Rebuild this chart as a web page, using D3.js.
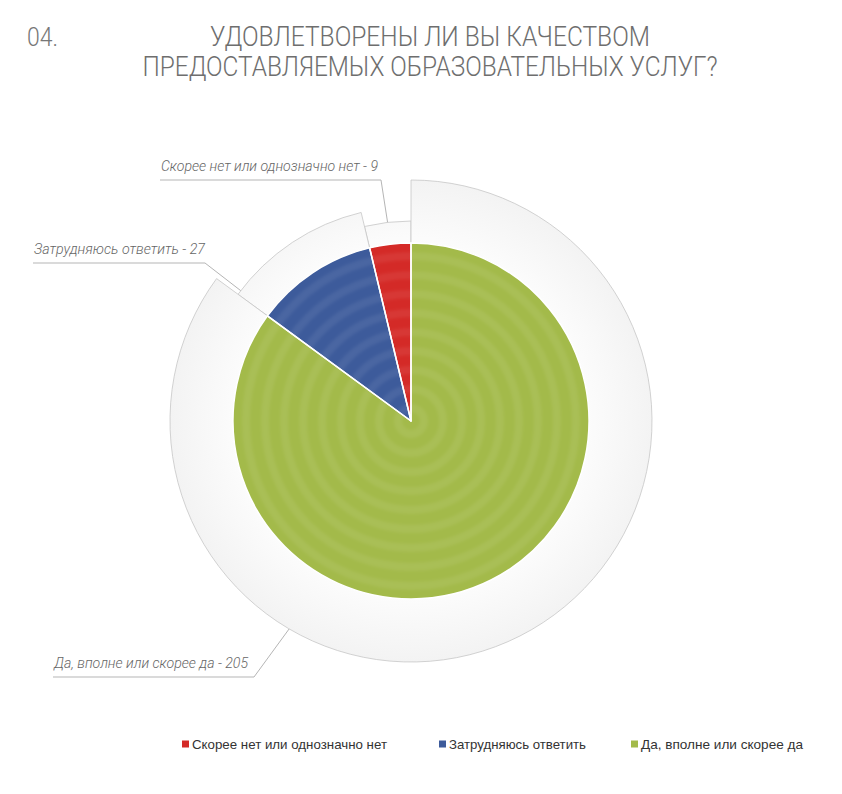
<!DOCTYPE html>
<html>
<head>
<meta charset="utf-8">
<script src="https://cdn.jsdelivr.net/npm/d3@7"></script>
<style>
  body { margin: 0; background: #fff; }
  svg { display: block; }
</style>
</head>
<body>
<svg id="chart" width="842" height="794"></svg>
<script>
// answers, in legend order
const categories = [
  "Скорее нет или однозначно нет",
  "Затрудняюсь ответить",
  "Да, вполне или скорее да"
];
const values = [9, 27, 205];
const colors = ["#d42a27", "#3d5b9b", "#a3ba4a"];
const titleLines = [
  "УДОВЛЕТВОРЕНЫ ЛИ ВЫ КАЧЕСТВОМ",
  "ПРЕДОСТАВЛЯЕМЫХ ОБРАЗОВАТЕЛЬНЫХ УСЛУГ?"
];
const questionNo = "04.";

const data = categories.map((c, i) => ({ name: c, value: values[i], color: colors[i] }));

const svg = d3.select("#chart");
const cx = 411, cy = 421;
const innerR = 178;

// title
svg.append("text")
  .attr("x", 27).attr("y", 46)
  .attr("font-family", "Roboto, 'Liberation Sans Narrow', sans-serif")
  .attr("font-weight", 300)
  .attr("font-size", 26)
  .attr("fill", "#777")
  .attr("textLength", 31)
  .attr("lengthAdjust", "spacingAndGlyphs")
  .text(questionNo);

const titleWidths = [440, 575];
svg.selectAll(".title")
  .data(titleLines)
  .enter()
  .append("text")
  .attr("class", "title")
  .attr("x", 430)
  .attr("y", (d, i) => 46 + i * 30)
  .attr("text-anchor", "middle")
  .attr("font-family", "Roboto, 'Liberation Sans Narrow', sans-serif")
  .attr("font-weight", 300)
  .attr("font-size", 28)
  .attr("fill", "#6e6e6e")
  .attr("textLength", (d, i) => titleWidths[i])
  .attr("lengthAdjust", "spacingAndGlyphs")
  .text(d => d);

// clockwise from 12 o'clock: green, blue, red -> run the pie backwards
const pie = d3.pie()
  .sort(null)
  .value(d => d.value)
  .startAngle(2 * Math.PI)
  .endAngle(0);
const arcs = pie(data);

// outer grey wedges grow with the value
const outerR = d3.scaleLog()
  .domain(d3.extent(values))
  .range([200, 241]);

const defs = svg.append("defs");
const grad = defs.append("radialGradient")
  .attr("id", "greyFade")
  .attr("gradientUnits", "userSpaceOnUse")
  .attr("cx", 0).attr("cy", 0).attr("r", 241);
grad.append("stop").attr("offset", 0.7).attr("stop-color", "#fdfdfd");
grad.append("stop").attr("offset", 1).attr("stop-color", "#f3f3f3");

defs.append("clipPath")
  .attr("id", "pieClip")
  .append("circle")
  .attr("r", innerR);

defs.append("filter")
  .attr("id", "soft")
  .attr("x", "-10%").attr("y", "-10%")
  .attr("width", "120%").attr("height", "120%")
  .append("feGaussianBlur")
  .attr("stdDeviation", 1.8);

const g = svg.append("g").attr("transform", `translate(${cx},${cy})`);

g.selectAll(".outer")
  .data(arcs)
  .enter()
  .append("path")
  .attr("class", "outer")
  .attr("d", d => d3.arc().innerRadius(0).outerRadius(outerR(d.data.value))(d))
  .attr("fill", "url(#greyFade)")
  .attr("stroke", "#c6c6c6")
  .attr("stroke-width", 0.8);

const inner = d3.arc().innerRadius(0).outerRadius(innerR);
g.selectAll(".slice")
  .data(arcs)
  .enter()
  .append("path")
  .attr("class", "slice")
  .attr("d", inner)
  .attr("fill", d => d.data.color);

// faint concentric rings over the coloured disc
g.append("g")
  .attr("clip-path", "url(#pieClip)")
  .append("g")
  .attr("filter", "url(#soft)")
  .selectAll("circle")
  .data(d3.range(13, innerR, 19))
  .enter()
  .append("circle")
  .attr("r", d => d)
  .attr("fill", "none")
  .attr("stroke", "#fff")
  .attr("stroke-opacity", 0.065)
  .attr("stroke-width", 8);

g.selectAll(".sep")
  .data(arcs)
  .enter()
  .append("path")
  .attr("class", "sep")
  .attr("d", inner)
  .attr("fill", "none")
  .attr("stroke", "#fff")
  .attr("stroke-width", 1.5)
  .attr("stroke-linejoin", "round");

// callouts: where on the outer arc the leader lands, and where the label sits
const callouts = [
  { frac: 0.5, y: 180, x0: 160, x1: 381, w: 217 },
  { frac: 0.03, y: 263, x0: 33, x1: 205, w: 171 },
  { frac: 0.687, y: 677, x0: 53, x1: 254, w: 194 }
];

const labels = svg.append("g");
arcs.forEach((d, i) => {
  const c = callouts[i];
  const a = d.endAngle + c.frac * (d.startAngle - d.endAngle);
  const r = outerR(d.data.value);
  const px = cx + r * Math.sin(a);
  const py = cy - r * Math.cos(a);
  labels.append("polyline")
    .attr("points", [[c.x0, c.y], [c.x1, c.y], [px, py]].map(p => p.join(",")).join(" "))
    .attr("fill", "none")
    .attr("stroke", "#b5b5b5")
    .attr("stroke-width", 1);
  labels.append("text")
    .attr("x", c.x0 + 1)
    .attr("y", c.y - 9)
    .attr("font-family", "Roboto, 'Liberation Sans', sans-serif")
    .attr("font-weight", 300)
    .attr("font-style", "italic")
    .attr("font-size", 14)
    .attr("fill", "#666")
    .attr("textLength", c.w)
    .attr("lengthAdjust", "spacingAndGlyphs")
    .text(`${d.data.name} - ${d.data.value}`);
});

// legend
const legendX = [182, 439, 631];
const legendW = [195, 137, 162];
const legend = svg.append("g")
  .selectAll("g")
  .data(data)
  .enter()
  .append("g")
  .attr("transform", (d, i) => `translate(${legendX[i]},744)`);

legend.append("rect")
  .attr("x", 0).attr("y", -3.5)
  .attr("width", 7).attr("height", 7)
  .attr("fill", d => d.color);

legend.append("text")
  .attr("x", 10)
  .attr("y", 5)
  .attr("font-family", "'Liberation Sans', Arial, sans-serif")
  .attr("font-size", 13.5)
  .attr("fill", "#333")
  .attr("textLength", (d, i) => legendW[i])
  .attr("lengthAdjust", "spacingAndGlyphs")
  .text(d => d.name);
</script>
</body>
</html>
